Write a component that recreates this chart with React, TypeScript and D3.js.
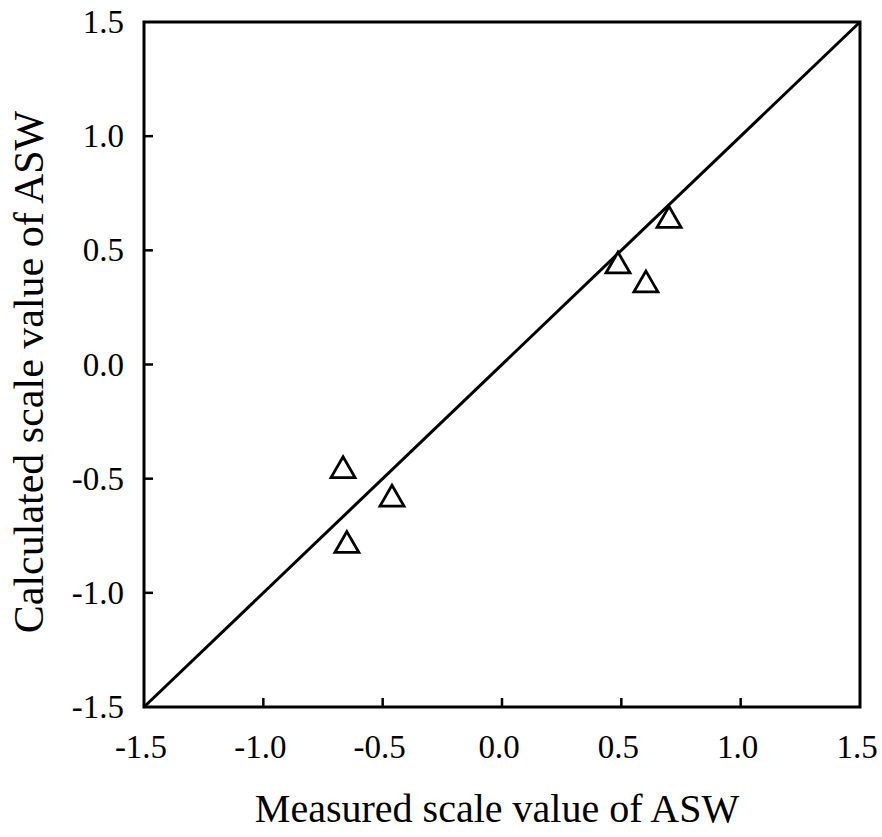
import React from "react";
import * as d3 from "d3";

const measured = [0.70, 0.486, 0.603, -0.666, -0.461, -0.650];
const calculated = [0.64, 0.44, 0.357, -0.456, -0.581, -0.784];
const tickValues = [-1.5, -1.0, -0.5, 0.0, 0.5, 1.0, 1.5];
const innerTicks = [-1.0, -0.5, 0.0, 0.5, 1.0];
const xTitle = "Measured scale value of ASW";
const yTitle = "Calculated scale value of ASW";

const W = 882;
const H = 837;
const left = 144, right = 860, top = 22, bottom = 707;

export default function App() {
  const x = d3.scaleLinear().domain([-1.5, 1.5]).range([left, right]);
  const y = d3.scaleLinear().domain([-1.5, 1.5]).range([bottom, top]);
  const diag = d3.line<number>().x((d) => x(d)).y((d) => y(d));
  const tri = d3.symbol().type(d3.symbolTriangle).size(250);
  const font = "'Liberation Serif', 'Times New Roman', serif";
  const pts = measured.map((m, i) => ({ m, c: calculated[i] }));

  return (
    <svg width={W} height={H} style={{ position: "absolute", left: 0, top: 0, background: "#fff" }}>
      <rect x={left} y={top} width={right - left} height={bottom - top} fill="none" stroke="#000" strokeWidth={3} />
      {innerTicks.map((t) => (
        <line key={"xt" + t} x1={x(t)} x2={x(t)} y1={bottom} y2={bottom - 9} stroke="#000" strokeWidth={2.5} />
      ))}
      {innerTicks.map((t) => (
        <line key={"yt" + t} x1={left} x2={left + 9} y1={y(t)} y2={y(t)} stroke="#000" strokeWidth={2.5} />
      ))}
      {tickValues.map((t) => (
        <text key={"xl" + t} x={x(t) - 3} y={758} textAnchor="middle" fontFamily={font} fontSize={33} fill="#000">
          {t.toFixed(1)}
        </text>
      ))}
      {tickValues.map((t) => (
        <text key={"yl" + t} x={124} y={y(t) + 11} textAnchor="end" fontFamily={font} fontSize={33} fill="#000">
          {t.toFixed(1)}
        </text>
      ))}
      <path d={diag([-1.5, 1.5]) || ""} stroke="#000" strokeWidth={3} fill="none" />
      {pts.map((p, i) => (
        <path
          key={i}
          d={tri() || ""}
          transform={`translate(${x(p.m)},${y(p.c) + 2})`}
          fill="#fff"
          stroke="#000"
          strokeWidth={2.8}
        />
      ))}
      <text x={497} y={822} textAnchor="middle" fontFamily={font} fontSize={40} fill="#000">
        {xTitle}
      </text>
      <text
        transform={`translate(43,372) rotate(-90)`}
        textAnchor="middle"
        fontFamily={font}
        fontSize={42}
        fill="#000"
      >
        {yTitle}
      </text>
    </svg>
  );
}
